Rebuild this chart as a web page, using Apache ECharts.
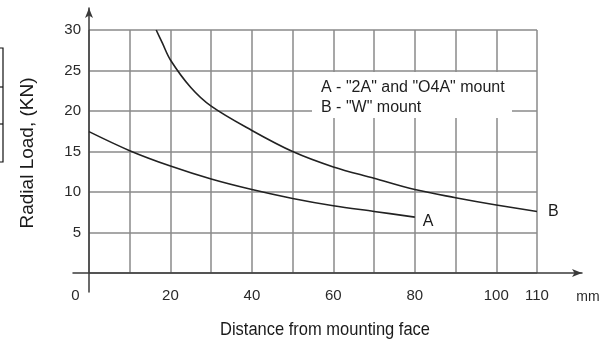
<!DOCTYPE html>
<html>
<head>
<meta charset="utf-8">
<title>Radial Load</title>
<script src="https://cdn.jsdelivr.net/npm/echarts@6/dist/echarts.min.js"></script>
<style>
  html, body { margin: 0; padding: 0; background: #fff; }
  #chart { width: 615px; height: 343px; }
</style>
</head>
<body>
<div id="chart"></div>
<script>
// curve A: "2A" and "O4A" mount  [distance mm, load kN]
const curveA = [
  [0, 17.45], [10, 15.1], [20, 13.2], [30, 11.6], [40, 10.3],
  [50, 9.2], [60, 8.3], [70, 7.6], [80, 6.9]
]
// curve B: "W" mount
const curveB = [
  [16.5, 30], [18, 28.4], [20, 26.3], [25, 22.9], [30, 20.6], [40, 17.6],
  [50, 15.0], [60, 13.1], [70, 11.7], [80, 10.3], [90, 9.3], [100, 8.4], [110, 7.6]
]
const xLabels = [0, 20, 40, 60, 80, 100, 110]
const legendLines = ['A - "2A" and "O4A" mount', 'B - "W" mount']

const font = 'Liberation Sans, Arial, sans-serif'
const gridColor = '#8a8a8a'
const axisColor = '#3a3a3a'
const labelColor = '#2a2a2a'

const chart = echarts.init(document.getElementById('chart'))

const option = {
  animation: false,
  textStyle: { fontFamily: font },
  grid: [
    { left: 89, right: 78, top: 30, bottom: 70 },   // data
    { left: 73, right: 33, top: 30, bottom: 70 },   // x arrow
    { left: 89, right: 78, top: 8, bottom: 51 }     // y arrow
  ],
  xAxis: [
    {
      gridIndex: 0, type: 'value', min: 0, max: 110, interval: 10,
      axisLine: { show: false }, axisTick: { show: false },
      splitLine: { show: true, lineStyle: { color: gridColor, width: 1.5 } },
      axisLabel: {
        margin: 15, fontSize: 15, color: labelColor, fontFamily: font,
        formatter: v => {
          if (v === 0) return '{z|0}'
          return xLabels.indexOf(v) >= 0 ? String(v) : ''
        },
        rich: { z: { padding: [0, 27, 0, 0], fontSize: 15, color: labelColor, fontFamily: font } }
      }
    },
    {
      gridIndex: 1, type: 'value', min: 0, max: 1,
      axisLine: { show: true, onZero: false, symbol: ['none', 'arrow'], symbolSize: [6, 10], lineStyle: { color: axisColor, width: 1.5 } },
      axisTick: { show: false }, axisLabel: { show: false }, splitLine: { show: false }
    },
    { gridIndex: 2, type: 'value', show: false }
  ],
  yAxis: [
    {
      gridIndex: 0, type: 'value', min: 0, max: 30, interval: 5,
      axisLine: { show: false }, axisTick: { show: false },
      splitLine: { show: true, lineStyle: { color: gridColor, width: 1.5 } },
      axisLabel: {
        margin: 8, fontSize: 15, color: labelColor, fontFamily: font,
        formatter: v => (v === 0 ? '' : String(v))
      }
    },
    { gridIndex: 1, type: 'value', show: false },
    {
      gridIndex: 2, type: 'value', min: 0, max: 1,
      axisLine: { show: true, onZero: false, symbol: ['none', 'arrow'], symbolSize: [6, 10], lineStyle: { color: axisColor, width: 1.5 } },
      axisTick: { show: false }, axisLabel: { show: false }, splitLine: { show: false }
    }
  ],
  series: [
    {
      name: 'A', type: 'line', xAxisIndex: 0, yAxisIndex: 0,
      data: curveA, smooth: 0.35, showSymbol: false,
      lineStyle: { color: '#222', width: 1.6 },
      endLabel: { show: true, formatter: 'A', offset: [0, 4], fontSize: 16, color: '#1a1a1a', fontFamily: font }
    },
    {
      name: 'B', type: 'line', xAxisIndex: 0, yAxisIndex: 0,
      data: curveB, smooth: 0.35, showSymbol: false,
      lineStyle: { color: '#222', width: 1.6 },
      endLabel: { show: true, formatter: 'B', offset: [3, 0], fontSize: 16, color: '#1a1a1a', fontFamily: font }
    }
  ],
  graphic: [
    // legend box
    { type: 'rect', z: 10, shape: { x: 312, y: 72, width: 200, height: 46 }, style: { fill: '#fff' } },
    { type: 'text', z: 11, x: 321, y: 88, style: { text: legendLines[0], font: '16px ' + font, fill: '#1e1e1e', textVerticalAlign: 'middle' } },
    { type: 'text', z: 11, x: 321, y: 108, style: { text: legendLines[1], font: '16px ' + font, fill: '#1e1e1e', textVerticalAlign: 'middle' } },
    // unit and axis titles
    { type: 'text', z: 11, x: 588, y: 297, style: { text: 'mm', font: '14px ' + font, fill: labelColor, textAlign: 'center', textVerticalAlign: 'middle' } },
    { type: 'text', z: 11, x: 325, y: 330, scaleY: 1.12, style: { text: 'Distance from mounting face', font: '16.5px ' + font, fill: '#1a1a1a', textAlign: 'center', textVerticalAlign: 'middle' } },
    { type: 'text', z: 11, x: 28, y: 153, rotation: Math.PI / 2, style: { text: 'Radial Load, (KN)', font: '19px ' + font, fill: '#1a1a1a', textAlign: 'center', textVerticalAlign: 'middle' } },
    // cropped table border at left edge
    { type: 'polyline', z: 11, shape: { points: [[0, 48], [3, 48], [3, 162], [0, 162]] }, style: { stroke: '#111', lineWidth: 1.2, fill: null } },
    { type: 'line', z: 11, shape: { x1: 0, y1: 87, x2: 3, y2: 87 }, style: { stroke: '#111', lineWidth: 1.2 } },
    { type: 'line', z: 11, shape: { x1: 0, y1: 124, x2: 3, y2: 124 }, style: { stroke: '#111', lineWidth: 1.2 } }
  ]
}

chart.setOption(option)

window.addEventListener('resize', () => {
  chart.resize()
})
</script>
</body>
</html>
